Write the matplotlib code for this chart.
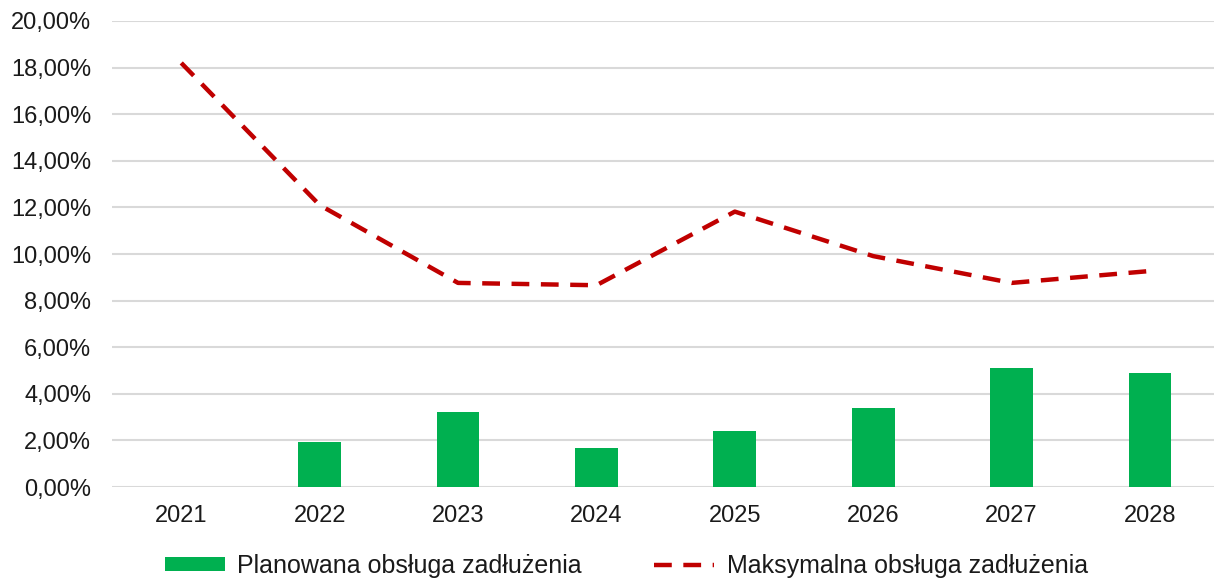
import numpy as np
import matplotlib.pyplot as plt
from matplotlib.ticker import FuncFormatter

# dane (w %)
years = ["2021", "2022", "2023", "2024", "2025", "2026", "2027", "2028"]
planowana = [0.0, 1.94, 3.22, 1.67, 2.40, 3.39, 5.12, 4.91]
maksymalna = [18.2, 12.1, 8.76, 8.66, 11.82, 9.91, 8.76, 9.27]

plt.rcParams["font.family"] = ["Liberation Sans", "DejaVu Sans"]

fig = plt.figure(figsize=(12.14, 5.8), dpi=100)
ax = fig.add_axes([0.0923, 0.1603, 0.912, 0.8035])

x = np.arange(len(years))
bars = ax.bar(x, planowana, width=0.31, color="#00B050", label="Planowana obsługa zadłużenia", zorder=2)
line, = ax.plot(x, maksymalna, color="#C00000", linewidth=3.2, linestyle=(0, (4, 2.6)),
                label="Maksymalna obsługa zadłużenia", zorder=3)

ax.set_xlim(-0.5, 7.5)
ax.set_ylim(0, 20)
ax.set_yticks(np.arange(0, 21, 2))
ax.yaxis.set_major_formatter(FuncFormatter(lambda v, p: f"{v:.2f}".replace(".", ",") + "%"))
ax.set_xticks(x)
ax.set_xticklabels(years)
ax.tick_params(axis="both", length=0, labelsize=17, colors="#1a1a1a")
ax.tick_params(axis="y", pad=15)
ax.tick_params(axis="x", pad=13)
ax.grid(axis="y", color="#D9D9D9", linewidth=1.5, zorder=0)
ax.set_axisbelow(True)
for s in ax.spines.values():
    s.set_visible(False)

fig.legend([bars, line], [bars.get_label(), line.get_label()],
           loc="center", bbox_to_anchor=(0.516, 0.024), ncol=2, frameon=False,
           fontsize=18, handlelength=2.4, handleheight=0.5, columnspacing=2.9,
           handletextpad=0.5, labelcolor="#1a1a1a")

fig.savefig("out.png", dpi=100)
